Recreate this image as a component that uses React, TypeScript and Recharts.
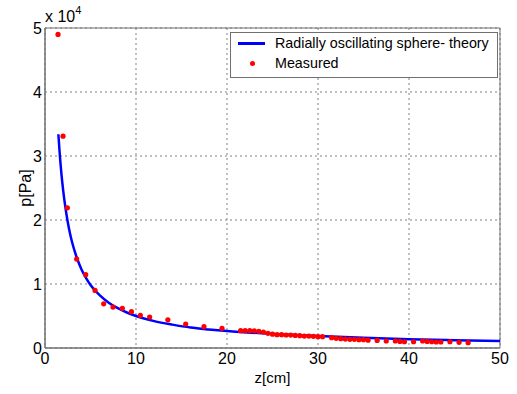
import { ComposedChart, Line, Scatter, XAxis, YAxis, CartesianGrid, ReferenceArea } from 'recharts'

// measured pressure, z in cm, p in Pa
const measuredZ = [
  1.43, 1.98, 2.46, 3.48, 4.47, 5.5, 6.45, 7.47, 8.5, 9.5, 10.48, 11.5, 13.5, 15.46, 17.47, 19.45,
  21.5, 22, 22.5, 23, 23.5, 24, 24.5, 25, 25.5, 26, 26.5, 27, 27.5, 28, 28.5, 29, 29.5, 30, 30.5,
  31.5, 32, 32.5, 33, 33.5, 34, 34.5, 35, 35.5, 36.5, 37.5, 38.5, 39, 39.5, 40.5, 41.5, 42, 42.5,
  43, 43.5, 44.5, 45.5, 46.5,
]
const measuredP = [
  49000, 33100, 21900, 13900, 11450, 9000, 6900, 6400, 6200, 5670, 5100, 4840, 4400, 3750, 3330, 3070,
  2700, 2700, 2700, 2680, 2600, 2500, 2300, 2160, 2080, 2080, 2030, 2020, 1970, 1920, 1870, 1870, 1820, 1770, 1770,
  1610, 1510, 1450, 1400, 1350, 1350, 1300, 1300, 1220, 1180, 1090, 1090, 1030, 980, 980, 1090, 1030, 980,
  940, 940, 980, 880, 830,
]

// radially oscillating sphere, theory curve
const theoryZ = [1.47, 1.6, 1.8, 2, 2.25, 2.5, 2.75, 3, 3.5, 4, 4.5, 5, 6, 7, 8, 9, 10, 12, 14, 16, 18, 20, 25, 30, 35, 40, 45, 50]
const theoryP = [
  33400, 30700, 27300, 24600, 21900, 19700, 17900, 16400, 14100, 12300, 10950, 9850, 8250, 7080, 6220, 5550,
  5000, 4200, 3650, 3200, 2900, 2650, 2200, 1870, 1600, 1380, 1220, 1100,
]

const xTicks = [0, 10, 20, 30, 40, 50]
const yTicks = [0, 10000, 20000, 30000, 40000, 50000]

const measured = measuredZ.map((z, i) => ({ z, p: measuredP[i] }))
const theory = theoryZ.map((z, i) => ({ z, p: theoryP[i] }))

const FONT = '"Liberation Sans", Arial, Helvetica, sans-serif'
const AXIS = '#707070'

function RedDot(props: any) {
  const { cx, cy } = props
  return <circle cx={cx} cy={cy} r={2.6} fill="#ff0000" />
}

export default function App() {
  return (
    <div style={{ position: 'absolute', left: 0, top: 0, width: 517, height: 394, background: '#fff', fontFamily: FONT }}>
      <ComposedChart width={517} height={394} margin={{ top: 28, right: 17, bottom: 0, left: 0 }}>
        <CartesianGrid stroke="#808080" strokeDasharray="2 3" />
        <XAxis
          type="number"
          dataKey="z"
          domain={[0, 50]}
          ticks={xTicks}
          height={46}
          tickLine={false}
          tickSize={0}
          tickMargin={5}
          axisLine={{ stroke: AXIS }}
          tick={{ fill: '#000', fontSize: 16, fontFamily: FONT }}
          label={{ value: 'z[cm]', position: 'insideBottom', offset: 11, fill: '#000', fontSize: 15, fontFamily: FONT }}
        />
        <YAxis
          type="number"
          dataKey="p"
          domain={[0, 50000]}
          ticks={yTicks}
          width={45}
          tickLine={false}
          tickSize={0}
          tickMargin={3}
          axisLine={{ stroke: AXIS }}
          tickFormatter={(v: number) => String(v / 10000)}
          tick={{ fill: '#000', fontSize: 16, fontFamily: FONT }}
          label={{
            value: 'p[Pa]',
            angle: -90,
            position: 'insideLeft',
            offset: 25,
            fill: '#000',
            fontSize: 16,
            fontFamily: FONT,
            style: { textAnchor: 'middle' },
          }}
        />
        <ReferenceArea x1={0} x2={50} y1={0} y2={50000} fill="none" stroke={AXIS} strokeOpacity={1} />
        <Line
          data={theory}
          dataKey="p"
          type="monotone"
          stroke="#0000ff"
          strokeWidth={2.5}
          dot={false}
          isAnimationActive={false}
        />
        <Scatter data={measured} dataKey="p" shape={<RedDot />} isAnimationActive={false} />
      </ComposedChart>

      <div style={{ position: 'absolute', left: 45, top: 8, fontSize: 16, lineHeight: '17px', color: '#000' }}>
        x 10<sup style={{ fontSize: 11, verticalAlign: 'top', position: 'relative', top: -6 }}>4</sup>
      </div>

      <div
        style={{
          position: 'absolute',
          left: 230,
          top: 32,
          width: 266,
          height: 44,
          border: `1px solid ${AXIS}`,
          background: '#fff',
          fontSize: 14.3,
          color: '#000',
        }}
      >
        <div style={{ position: 'absolute', left: 7, top: 9, width: 27, height: 2.5, background: '#0000ff' }} />
        <div style={{ position: 'absolute', left: 44, top: 1, lineHeight: '18px', whiteSpace: 'nowrap' }}>
          Radially oscillating sphere- theory
        </div>
        <div style={{ position: 'absolute', left: 19, top: 28, width: 5, height: 5, borderRadius: 3, background: '#ff0000' }} />
        <div style={{ position: 'absolute', left: 44, top: 21, lineHeight: '18px', whiteSpace: 'nowrap' }}>Measured</div>
      </div>
    </div>
  )
}
